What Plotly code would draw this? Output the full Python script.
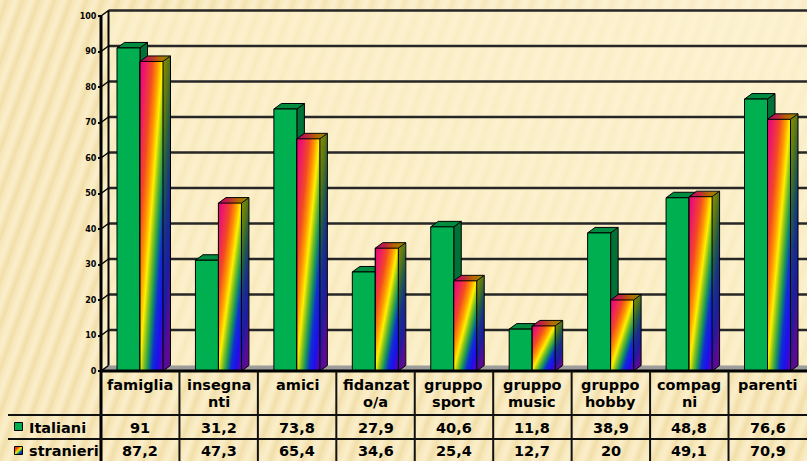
import base64
import numpy as np
import plotly.graph_objects as go

# ---- data ----
CATEGORIES = ["famiglia", "insegna\nnti", "amici", "fidanzat\no/a", "gruppo\nsport",
              "gruppo\nmusic", "gruppo\nhobby", "compag\nni", "parenti"]
SERIES_NAMES = ["Italiani", "stranieri"]
ITALIANI = [91, 31.2, 73.8, 27.9, 40.6, 11.8, 38.9, 48.8, 76.6]
STRANIERI = [87.2, 47.3, 65.4, 34.6, 25.4, 12.7, 20, 49.1, 70.9]
Y_TICKS = list(range(0, 101, 10))

# ---- page geometry ----
W, H = 807, 461
X0_PX, CAT_PX = 101, 78.44      # front axis position, width of one category column
Y0_PX, UNIT_PX = 371, 3.55      # front floor line, pixels per value unit
DX = 7.5 / CAT_PX               # 3-D depth, horizontal (axis units)
DY = 5.5 / UNIT_PX              # 3-D depth, vertical (axis units)
BAR_W = 23 / CAT_PX
G0 = 16 / CAT_PX                # green bar start inside its column
R0 = G0 + BAR_W                 # striped bar start
N = len(CATEGORIES)

X_MIN, X_MAX = -X0_PX / CAT_PX, (W - X0_PX) / CAT_PX
Y_MIN, Y_MAX = (Y0_PX - H) / UNIT_PX, Y0_PX / UNIT_PX


def xpx(px):
    return (px - X0_PX) / CAT_PX


def ypx(py):
    return (Y0_PX - py) / UNIT_PX


def svg_uri(svg):
    return "data:image/svg+xml;base64," + base64.b64encode(svg.encode()).decode()


def fmt(v):
    return f"{v:g}".replace(".", ",")


GREEN = "#00B050"
GREEN_TOP = "#008C40"
GREEN_SIDE = "#007237"

FRONT_STOPS = [(0, "#E4007F"), (0.14, "#EE2060"), (0.27, "#F34A22"), (0.39, "#FF9800"),
               (0.49, "#FFF000"), (0.58, "#7AC020"), (0.67, "#109060"), (0.76, "#1030D0"),
               (0.86, "#1A10F0"), (1.0, "#6A00A0")]
TOP_STOPS = [(0, "#B4007A"), (0.35, "#C02838"), (0.65, "#B46A00"), (1.0, "#8C8C00")]
SIDE_STOPS = [(0, "#8E8E00"), (0.22, "#5F7A10"), (0.42, "#1F5A4A"), (0.6, "#17308A"),
              (0.8, "#1C1CA0"), (1.0, "#5C0A92")]


def stops(lst):
    return "".join(f'<stop offset="{o}" stop-color="{c}"/>' for o, c in lst)


def striped_bar_svg(value):
    """Front, top and side faces of one 3-D bar, in a box spanning the bar's extent."""
    fw = 100 * BAR_W / (BAR_W + DX)
    fdy = 100 * DY / (value + DY)
    return (
        '<svg xmlns="http://www.w3.org/2000/svg" viewBox="0 0 100 100" '
        'preserveAspectRatio="none" width="100" height="100"><defs>'
        f'<linearGradient id="f" x1="0" y1="0" x2="1" y2="1">{stops(FRONT_STOPS)}</linearGradient>'
        f'<linearGradient id="t" x1="0" y1="0" x2="1" y2="0">{stops(TOP_STOPS)}</linearGradient>'
        f'<linearGradient id="s" x1="0" y1="0" x2="0.3" y2="1">{stops(SIDE_STOPS)}</linearGradient>'
        '</defs>'
        f'<rect x="0" y="{fdy}" width="{fw}" height="{100 - fdy}" fill="url(#f)"/>'
        f'<polygon points="0,{fdy} {fw},{fdy} 100,0 {100 - fw},0" fill="url(#t)"/>'
        f'<polygon points="{fw},{fdy} 100,0 100,{100 - fdy} {fw},100" fill="url(#s)"/>'
        '</svg>'
    )


BACKGROUND_SVG = (
    f'<svg xmlns="http://www.w3.org/2000/svg" width="{W}" height="{H}" viewBox="0 0 {W} {H}" '
    'preserveAspectRatio="none"><defs>'
    '<linearGradient id="band" x1="0" y1="0" x2="1" y2="0">'
    '<stop offset="0" stop-color="#FBEFCB"/><stop offset="0.45" stop-color="#F1DEA8"/>'
    '<stop offset="0.6" stop-color="#F6E6B8"/><stop offset="1" stop-color="#FBEFCB"/></linearGradient>'
    '<pattern id="p" width="15" height="40" patternUnits="userSpaceOnUse" patternTransform="rotate(20)">'
    '<rect width="15" height="40" fill="url(#band)"/></pattern>'
    '<radialGradient id="glow" cx="0.92" cy="0.05" r="0.75">'
    '<stop offset="0" stop-color="#FFF7E0" stop-opacity="0.55"/>'
    '<stop offset="1" stop-color="#FFF7E0" stop-opacity="0"/></radialGradient>'
    '</defs>'
    f'<rect width="{W}" height="{H}" fill="url(#p)"/>'
    f'<rect width="{W}" height="{H}" fill="url(#glow)"/>'
    '</svg>'
)

KEY_SVG = (
    '<svg xmlns="http://www.w3.org/2000/svg" viewBox="0 0 10 10" preserveAspectRatio="none" '
    f'width="10" height="10"><defs><linearGradient id="f" x1="0" y1="0" x2="1" y2="1">'
    f'{stops(FRONT_STOPS)}</linearGradient></defs>'
    '<rect width="10" height="10" fill="url(#f)"/></svg>'
)

idx = np.arange(N)
fig = go.Figure()

fig.add_trace(go.Bar(
    x=idx + G0, y=ITALIANI, width=BAR_W, offset=0, name=SERIES_NAMES[0],
    marker=dict(color=GREEN, line=dict(color="black", width=1)), showlegend=False,
))
fig.add_trace(go.Bar(
    x=idx + R0, y=STRANIERI, width=BAR_W, offset=0, name=SERIES_NAMES[1],
    marker=dict(color="#F5A000", line=dict(color="black", width=1)), showlegend=False,
))

shapes = []
images = [dict(source=svg_uri(BACKGROUND_SVG), xref="paper", yref="paper", x=0, y=1,
               sizex=1, sizey=1, xanchor="left", yanchor="top", sizing="stretch", layer="below")]

# back wall, softly lighter than the page
shapes.append(dict(type="rect", xref="x", yref="y", x0=DX, x1=X_MAX, y0=DY, y1=100 + DY,
                   fillcolor="rgba(253,242,206,0.55)", line=dict(width=0), layer="below"))
# floor
shapes.append(dict(type="path", xref="x", yref="y", layer="below",
                   path=f"M 0,0 L {DX},{DY} L {X_MAX + 1},{DY} L {X_MAX + 1},0 Z",
                   fillcolor="#9C9C9C", line=dict(width=0)))
# grid lines on the back wall and the short wall-to-axis connectors
for v in Y_TICKS:
    if v > 0:
        shapes.append(dict(type="line", xref="x", yref="y", x0=DX, x1=X_MAX, y0=v + DY, y1=v + DY,
                           line=dict(color="#262626", width=2.5), layer="below"))
    shapes.append(dict(type="line", xref="x", yref="y", x0=0, x1=DX, y0=v, y1=v + DY,
                       line=dict(color="black", width=1.5), layer="below"))
shapes.append(dict(type="line", xref="x", yref="y", x0=DX, x1=DX, y0=DY, y1=100 + DY,
                   line=dict(color="black", width=2), layer="below"))

# green bars: top and side faces
for i, v in enumerate(ITALIANI):
    xg, xr = i + G0, i + R0
    shapes.append(dict(type="path", xref="x", yref="y", layer="below",
                       path=f"M {xr},{v} L {xr + DX},{v + DY} L {xr + DX},{DY} L {xr},0 Z",
                       fillcolor=GREEN_SIDE, line=dict(color="black", width=1)))
    shapes.append(dict(type="path", xref="x", yref="y", layer="below",
                       path=f"M {xg},{v} L {xg + DX},{v + DY} L {xr + DX},{v + DY} L {xr},{v} Z",
                       fillcolor=GREEN_TOP, line=dict(color="black", width=1)))

# striped bars: shaded faces and outlines
for i, v in enumerate(STRANIERI):
    xr = i + R0
    images.append(dict(source=svg_uri(striped_bar_svg(v)), xref="x", yref="y",
                       x=xr, y=v + DY, sizex=BAR_W + DX, sizey=v + DY,
                       xanchor="left", yanchor="top", sizing="stretch", layer="above"))
    xe = xr + BAR_W
    shapes.append(dict(type="path", xref="x", yref="y", layer="above",
                       path=(f"M {xr},0 L {xr},{v} L {xe},{v} L {xe},0 Z "
                             f"M {xr},{v} L {xr + DX},{v + DY} L {xe + DX},{v + DY} L {xe},{v} "
                             f"M {xe + DX},{v + DY} L {xe + DX},{DY} L {xe},0"),
                       line=dict(color="black", width=1)))

# front axis line and floor edge
shapes.append(dict(type="line", xref="x", yref="y", x0=0, x1=0, y0=Y_MIN, y1=100,
                   line=dict(color="black", width=3), layer="above"))
shapes.append(dict(type="line", xref="x", yref="y", x0=0, x1=X_MAX, y0=0, y1=0,
                   line=dict(color="black", width=3), layer="above"))

# data table grid
for py in (415, 439):
    shapes.append(dict(type="line", xref="x", yref="y", x0=xpx(8), x1=X_MAX, y0=ypx(py), y1=ypx(py),
                       line=dict(color="#111111", width=2), layer="above"))
for k in range(1, N):
    shapes.append(dict(type="line", xref="x", yref="y", x0=k, x1=k, y0=0, y1=Y_MIN,
                       line=dict(color="#111111", width=2), layer="above"))

# legend keys inside the table
shapes.append(dict(type="rect", xref="x", yref="y", x0=xpx(14.5), x1=xpx(22.5),
                   y0=ypx(430.5), y1=ypx(422.5), fillcolor=GREEN,
                   line=dict(color="black", width=1), layer="above"))
images.append(dict(source=svg_uri(KEY_SVG), xref="x", yref="y", x=xpx(14.5), y=ypx(446.5),
                   sizex=8 / CAT_PX, sizey=8 / UNIT_PX, xanchor="left", yanchor="top",
                   sizing="stretch", layer="above"))
shapes.append(dict(type="rect", xref="x", yref="y", x0=xpx(14.5), x1=xpx(22.5),
                   y0=ypx(454.5), y1=ypx(446.5), line=dict(color="black", width=1), layer="above"))

TABLE_FONT = dict(family="DejaVu Sans", size=14.5, color="black", weight="bold")
annotations = []
for i, cat in enumerate(CATEGORIES):
    for j, line in enumerate(cat.split("\n")):
        annotations.append(dict(x=i + 0.5, y=ypx(385 + 17 * j), xref="x", yref="y", text=line,
                                showarrow=False, font=TABLE_FONT, xanchor="center", yanchor="middle"))
for row_py, name, values in ((428, SERIES_NAMES[0], ITALIANI), (451, SERIES_NAMES[1], STRANIERI)):
    annotations.append(dict(x=xpx(27), y=ypx(row_py), xref="x", yref="y", text=name,
                            showarrow=False, font=TABLE_FONT, xanchor="left", yanchor="middle"))
    for i, v in enumerate(values):
        annotations.append(dict(x=i + 0.5, y=ypx(row_py), xref="x", yref="y", text=fmt(v),
                                showarrow=False, font=TABLE_FONT, xanchor="center", yanchor="middle"))

fig.update_layout(
    width=W, height=H, autosize=False,
    margin=dict(l=0, r=0, t=0, b=0, pad=0),
    paper_bgcolor="#FAEDC6", plot_bgcolor="rgba(0,0,0,0)",
    barmode="overlay", showlegend=False,
    xaxis=dict(range=[X_MIN, X_MAX], visible=False, fixedrange=True),
    yaxis=dict(range=[Y_MIN, Y_MAX], anchor="free", position=X0_PX / W,
               tickvals=Y_TICKS, ticks="outside", ticklen=3, tickwidth=1.5, tickcolor="black",
               tickfont=dict(family="DejaVu Sans", size=8, color="black", weight="bold"),
               showgrid=False, zeroline=False, showline=False, fixedrange=True),
    shapes=shapes, images=images, annotations=annotations,
)

fig.write_html("out.html")
